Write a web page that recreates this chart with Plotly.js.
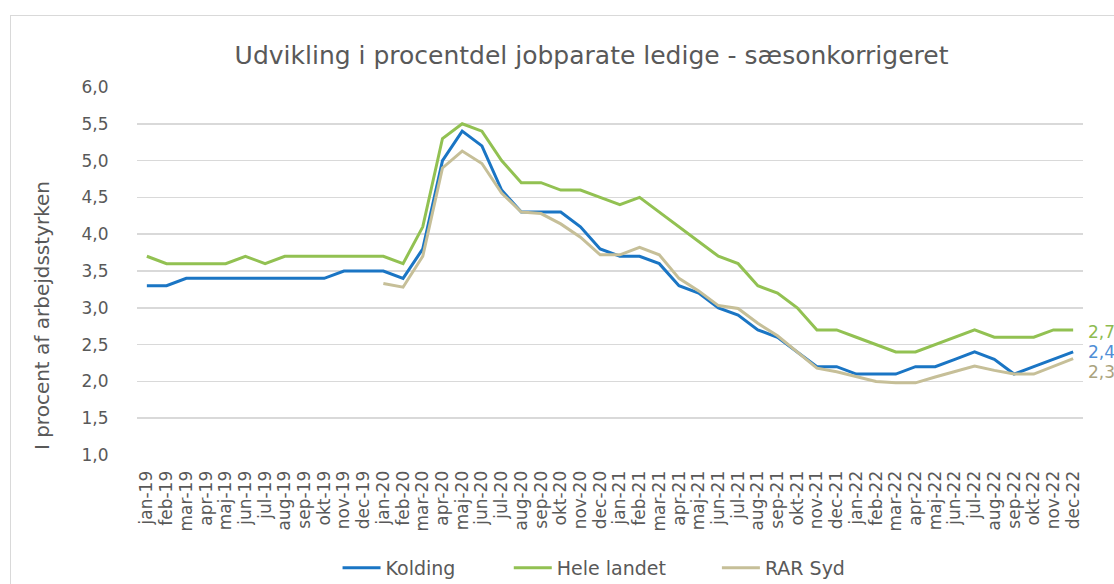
<!DOCTYPE html>
<html>
<head>
<meta charset="utf-8">
<script src="https://cdn.plot.ly/plotly-3.0.1.min.js"></script>
<style>
  html, body { margin: 0; padding: 0; background: #ffffff; }
  #wrap { position: relative; width: 1114px; height: 584px; overflow: hidden; }
  #frame { position: absolute; left: 10px; top: 15px; width: 1200px; height: 700px;
           border: 1.5px solid #d9d9d9; box-sizing: border-box; pointer-events: none; }
  #chart { position: absolute; left: 0; top: 0; width: 1114px; height: 584px; }
</style>
</head>
<body>
<div id="wrap">
  <div id="chart"></div>
  <div id="frame"></div>
</div>
<script>
const months = [
  "jan-19","feb-19","mar-19","apr-19","maj-19","jun-19","jul-19","aug-19","sep-19","okt-19","nov-19","dec-19",
  "jan-20","feb-20","mar-20","apr-20","maj-20","jun-20","jul-20","aug-20","sep-20","okt-20","nov-20","dec-20",
  "jan-21","feb-21","mar-21","apr-21","maj-21","jun-21","jul-21","aug-21","sep-21","okt-21","nov-21","dec-21",
  "jan-22","feb-22","mar-22","apr-22","maj-22","jun-22","jul-22","aug-22","sep-22","okt-22","nov-22","dec-22"
];

const kolding = [
  3.3,3.3,3.4,3.4,3.4,3.4,3.4,3.4,3.4,3.4,3.5,3.5,
  3.5,3.4,3.8,5.0,5.4,5.2,4.6,4.3,4.3,4.3,4.1,3.8,
  3.7,3.7,3.6,3.3,3.2,3.0,2.9,2.7,2.6,2.4,2.2,2.2,
  2.1,2.1,2.1,2.2,2.2,2.3,2.4,2.3,2.1,2.2,2.3,2.4
];

const heleLandet = [
  3.7,3.6,3.6,3.6,3.6,3.7,3.6,3.7,3.7,3.7,3.7,3.7,
  3.7,3.6,4.1,5.3,5.5,5.4,5.0,4.7,4.7,4.6,4.6,4.5,
  4.4,4.5,4.3,4.1,3.9,3.7,3.6,3.3,3.2,3.0,2.7,2.7,
  2.6,2.5,2.4,2.4,2.5,2.6,2.7,2.6,2.6,2.6,2.7,2.7
];

const rarSyd = [
  null,null,null,null,null,null,null,null,null,null,null,null,
  3.33,3.28,3.7,4.9,5.13,4.96,4.56,4.3,4.28,4.14,3.96,3.72,
  3.72,3.82,3.72,3.4,3.23,3.03,2.99,2.79,2.62,2.4,2.18,2.13,
  2.06,2.0,1.98,1.98,2.06,2.13,2.21,2.15,2.1,2.1,2.21,2.31
];

const seriesNames = ["Kolding", "Hele landet", "RAR Syd"];
const endLabels = ["2,4", "2,7", "2,3"];
const yTickVals = [1.0,1.5,2.0,2.5,3.0,3.5,4.0,4.5,5.0,5.5,6.0];

const colors = ["#1a75c4", "#92c152", "#c6bf98"];
const labelColors = ["#4f8ed6", "#8dbb50", "#aaa37e"];
const labelShift = [0, -2, -13];
const legendIds = ["legend", "legend2", "legend3"];
const legendX = [0.212, 0.393, 0.613];

const allSeries = [kolding, heleLandet, rarSyd];
const gray = "#595959";
const axFont = "DejaVu Sans, Arial, sans-serif";

const traces = allSeries.map((s, i) => ({
  type: "scatter",
  mode: "lines",
  x: months,
  y: s,
  name: seriesNames[i],
  legend: legendIds[i],
  line: { color: colors[i], width: 3 },
  connectgaps: false,
  hoverinfo: "x+y+name"
}));

const annotations = allSeries.map((s, i) => ({
  x: months[months.length - 1],
  y: s[s.length - 1],
  xref: "x", yref: "y",
  text: endLabels[i],
  showarrow: false,
  xanchor: "left",
  yanchor: "middle",
  xshift: 14,
  yshift: labelShift[i],
  borderpad: 0,
  font: { family: axFont, size: 17, color: labelColors[i] }
}));

annotations.push({
  xref: "paper", yref: "paper",
  x: -0.1005, y: 0.38,
  text: "I procent af arbejdsstyrken",
  textangle: -90,
  showarrow: false,
  xanchor: "center", yanchor: "middle",
  font: { family: axFont, size: 20, color: gray }
});

function legendFor(i) {
  return {
    orientation: "h",
    x: legendX[i], xanchor: "left",
    y: -0.307, yanchor: "middle",
    bgcolor: "rgba(0,0,0,0)",
    font: { family: axFont, size: 19, color: gray },
    itemwidth: 38
  };
}

const layout = {
  width: 1114, height: 584,
  margin: { l: 137, r: 31, t: 87, b: 129, autoexpand: false },
  paper_bgcolor: "rgba(0,0,0,0)",
  plot_bgcolor: "rgba(0,0,0,0)",
  separators: ", ",
  title: {
    text: "Udvikling i procentdel jobparate ledige - sæsonkorrigeret",
    font: { family: axFont, size: 25, color: gray },
    x: 0.531, xanchor: "center",
    y: 0.906, yanchor: "middle"
  },
  xaxis: {
    type: "category",
    categoryorder: "array",
    categoryarray: months,
    range: [-0.5, months.length - 0.5],
    tickmode: "array",
    tickvals: months,
    ticktext: months,
    tickangle: -90,
    tickfont: { family: axFont, size: 17, color: gray },
    showgrid: false,
    showline: false,
    zeroline: false,
    ticks: "outside",
    ticklen: 8,
    tickcolor: "rgba(0,0,0,0)",
    automargin: false,
    fixedrange: true
  },
  yaxis: {
    range: [1, 6],
    tickmode: "array",
    tickvals: yTickVals,
    tickformat: ".1f",
    tickfont: { family: axFont, size: 17, color: gray },
    showgrid: true,
    gridcolor: "#d9d9d9",
    gridwidth: 1.5,
    zeroline: false,
    showline: false,
    ticks: "outside",
    ticklen: 24,
    tickcolor: "rgba(0,0,0,0)",
    automargin: false,
    fixedrange: true
  },
  showlegend: true,
  legend: legendFor(0),
  legend2: legendFor(1),
  legend3: legendFor(2),
  annotations: annotations
};

Plotly.newPlot("chart", traces, layout, { displayModeBar: false, staticPlot: true });
</script>
</body>
</html>
